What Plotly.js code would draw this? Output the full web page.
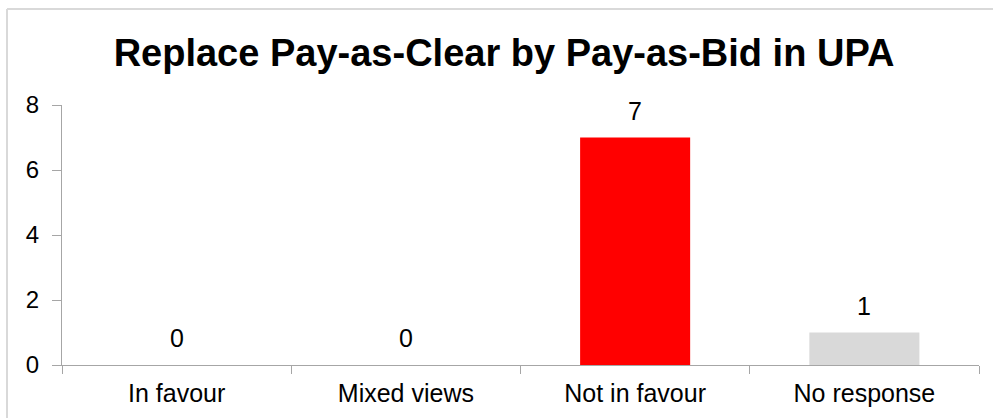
<!DOCTYPE html>
<html>
<head>
<meta charset="utf-8">
<script src="https://cdn.plot.ly/plotly-3.0.1.min.js"></script>
<style>
html, body { margin: 0; padding: 0; overflow: hidden; background: #fff; }
#chart { width: 993px; height: 418px; }
</style>
</head>
<body>
<div id="chart"></div>
<script>
const categories = ["In favour", "Mixed views", "Not in favour", "No response"];
const values = [0, 0, 7, 1];
const barColors = ["#ff0000", "#ff0000", "#ff0000", "#d9d9d9"];
const yTicks = [0, 2, 4, 6, 8];
const titleText = "Replace Pay-as-Clear by Pay-as-Bid in UPA";

const FONT = "Liberation Sans, Arial, sans-serif";

const trace = {
  type: "bar",
  x: categories,
  y: values,
  marker: { color: barColors, line: { width: 0 } },
  hoverinfo: "skip"
};

const annotations = categories.map((c, i) => ({
  x: c, y: values[i], xref: "x", yref: "y",
  text: String(values[i]),
  showarrow: false,
  yanchor: "bottom",
  yshift: 11,
  font: { family: FONT, size: 25, color: "#000" }
}));

const layout = {
  width: 993, height: 418,
  margin: { l: 62, r: 14, t: 105, b: 53 },
  paper_bgcolor: "#fff",
  plot_bgcolor: "#fff",
  showlegend: false,
  bargap: 0.52,
  title: {
    text: "<b>" + titleText + "</b>",
    font: { family: FONT, size: 38, color: "#000" },
    x: 504 / 993, xref: "container", xanchor: "center",
    y: 1 - 53 / 418, yref: "container", yanchor: "middle"
  },
  xaxis: {
    type: "category",
    showline: true, linecolor: "#a6a6a6", linewidth: 1,
    ticks: "outside", tickson: "boundaries", ticklen: 8, tickcolor: "#a6a6a6",
    showgrid: false, zeroline: false,
    ticklabelstandoff: 6,
    tickfont: { family: FONT, size: 25, color: "#000" },
    fixedrange: true
  },
  yaxis: {
    range: [0, 8],
    tickvals: yTicks,
    showline: true, linecolor: "#a6a6a6", linewidth: 1,
    ticks: "outside", ticklen: 9, tickcolor: "#a6a6a6",
    showgrid: false, zeroline: false,
    ticklabelstandoff: 8,
    tickfont: { family: FONT, size: 24, color: "#000" },
    fixedrange: true
  },
  annotations: annotations,
  shapes: [
    { type: "line", xref: "paper", yref: "paper",
      x0: (7 - 62) / 917, x1: (1005 - 62) / 917,
      y0: (365 - 9) / 260, y1: (365 - 9) / 260,
      line: { color: "#d9d9d9", width: 2 } },
    { type: "line", xref: "paper", yref: "paper",
      x0: (7 - 62) / 917, x1: (7 - 62) / 917,
      y0: (365 - 9) / 260, y1: (365 - 430) / 260,
      line: { color: "#d9d9d9", width: 2 } }
  ]
};

Plotly.newPlot("chart", [trace], layout, { displayModeBar: false, staticPlot: true });
</script>
</body>
</html>
